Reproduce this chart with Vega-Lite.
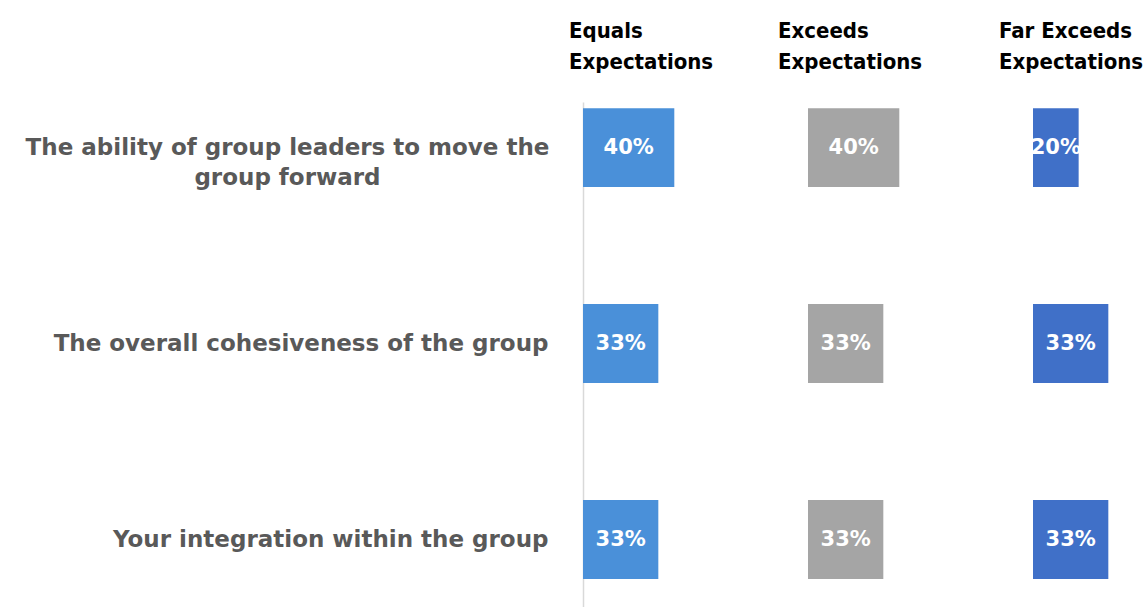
{
  "$schema": "https://vega.github.io/schema/vega-lite/v6.json",
  "background": "white",
  "padding": {"left": 25, "top": 20, "right": 0, "bottom": 0},
  "config": {"view": {"stroke": null}},
  "spacing": 120,
  "bounds": "flush",
  "data": {"values": [
    {"q": "The ability of group leaders to move the group forward", "level": "Equals Expectations", "value": 0.40},
    {"q": "The overall cohesiveness of the group", "level": "Equals Expectations", "value": 0.33},
    {"q": "Your integration within the group", "level": "Equals Expectations", "value": 0.33},
    {"q": "The ability of group leaders to move the group forward", "level": "Exceeds Expectations", "value": 0.40},
    {"q": "The overall cohesiveness of the group", "level": "Exceeds Expectations", "value": 0.33},
    {"q": "Your integration within the group", "level": "Exceeds Expectations", "value": 0.33},
    {"q": "The ability of group leaders to move the group forward", "level": "Far Exceeds Expectations", "value": 0.20},
    {"q": "The overall cohesiveness of the group", "level": "Far Exceeds Expectations", "value": 0.33},
    {"q": "Your integration within the group", "level": "Far Exceeds Expectations", "value": 0.33}
  ]},
  "hconcat": [
    {
      "width": 105, "height": 505,
      "title": {"text": ["Equals", "Expectations"], "anchor": "start", "frame": "group", "dx": -14, "offset": 28, "font": "DejaVu Sans Condensed", "fontSize": 22, "fontWeight": "bold", "color": "#000000", "lineHeight": 31},
      "transform": [{"filter": "datum.level === 'Equals Expectations'"}],
      "encoding": {
        "y": {"field": "q", "type": "nominal", "sort": null,
          "scale": {"domain": ["The ability of group leaders to move the group forward", "The overall cohesiveness of the group", "Your integration within the group"], "paddingInner": 0.597, "paddingOuter": 0.087, "align": 0.18},
          "axis": {"title": null, "ticks": false, "domainColor": "#d9d9d9", "domainWidth": 1.5, "labelFont": "DejaVu Sans", "labelFontSize": 23, "labelFontWeight": "bold", "labelColor": "#595959", "labelLimit": 700, "labelLineHeight": 30,
            "labelAlign": {"condition": {"test": "datum.value === 'The ability of group leaders to move the group forward'", "value": "center"}, "value": "right"},
            "labelPadding": {"condition": {"test": "datum.value === 'The ability of group leaders to move the group forward'", "value": 296}, "value": 35},
            "labelExpr": "datum.value === 'The ability of group leaders to move the group forward' ? ['The ability of group leaders to move the', 'group forward'] : datum.value"}}
      },
      "layer": [
        {"mark": {"type": "bar", "color": "#4a90d9"},
          "encoding": {"x": {"field": "value", "type": "quantitative", "scale": {"domain": [0, 0.46]}, "axis": null}}},
        {"mark": {"type": "text", "color": "white", "font": "DejaVu Sans", "fontWeight": "bold", "fontSize": 21},
          "encoding": {"x": {"field": "value", "type": "quantitative", "stack": "zero", "bandPosition": 0.5, "scale": {"domain": [0, 0.46]}, "axis": null},
            "text": {"field": "value", "type": "quantitative", "format": ".0%"}}}
      ]
    },
    {
      "width": 105, "height": 505,
      "title": {"text": ["Exceeds", "Expectations"], "anchor": "start", "frame": "group", "dx": -30, "offset": 28, "font": "DejaVu Sans Condensed", "fontSize": 22, "fontWeight": "bold", "color": "#000000", "lineHeight": 31},
      "transform": [{"filter": "datum.level === 'Exceeds Expectations'"}],
      "encoding": {
        "y": {"field": "q", "type": "nominal", "sort": null,
          "scale": {"domain": ["The ability of group leaders to move the group forward", "The overall cohesiveness of the group", "Your integration within the group"], "paddingInner": 0.597, "paddingOuter": 0.087, "align": 0.18},
          "axis": null}
      },
      "layer": [
        {"mark": {"type": "bar", "color": "#a5a5a5"},
          "encoding": {"x": {"field": "value", "type": "quantitative", "scale": {"domain": [0, 0.46]}, "axis": null}}},
        {"mark": {"type": "text", "color": "white", "font": "DejaVu Sans", "fontWeight": "bold", "fontSize": 21},
          "encoding": {"x": {"field": "value", "type": "quantitative", "stack": "zero", "bandPosition": 0.5, "scale": {"domain": [0, 0.46]}, "axis": null},
            "text": {"field": "value", "type": "quantitative", "format": ".0%"}}}
      ]
    },
    {
      "width": 105, "height": 505,
      "title": {"text": ["Far Exceeds", "Expectations"], "anchor": "start", "frame": "group", "dx": -34, "offset": 28, "font": "DejaVu Sans Condensed", "fontSize": 22, "fontWeight": "bold", "color": "#000000", "lineHeight": 31},
      "transform": [{"filter": "datum.level === 'Far Exceeds Expectations'"}],
      "encoding": {
        "y": {"field": "q", "type": "nominal", "sort": null,
          "scale": {"domain": ["The ability of group leaders to move the group forward", "The overall cohesiveness of the group", "Your integration within the group"], "paddingInner": 0.597, "paddingOuter": 0.087, "align": 0.18},
          "axis": null}
      },
      "layer": [
        {"mark": {"type": "bar", "color": "#4070c8"},
          "encoding": {"x": {"field": "value", "type": "quantitative", "scale": {"domain": [0, 0.46]}, "axis": null}}},
        {"mark": {"type": "text", "color": "white", "font": "DejaVu Sans", "fontWeight": "bold", "fontSize": 21},
          "encoding": {"x": {"field": "value", "type": "quantitative", "stack": "zero", "bandPosition": 0.5, "scale": {"domain": [0, 0.46]}, "axis": null},
            "text": {"field": "value", "type": "quantitative", "format": ".0%"}}}
      ]
    }
  ]
}
